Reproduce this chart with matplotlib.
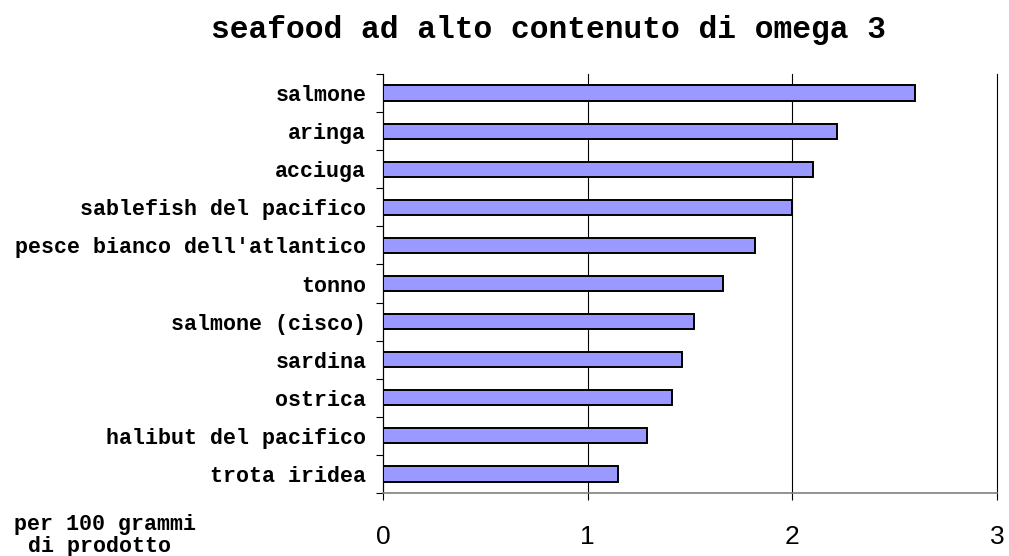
import matplotlib
matplotlib.use("Agg")
import matplotlib.pyplot as plt
import numpy as np

# omega 3 content, grams per 100 g of product
pesci = ["salmone", "aringa", "acciuga", "sablefish del pacifico",
         "pesce bianco dell'atlantico", "tonno", "salmone (cisco)",
         "sardina", "ostrica", "halibut del pacifico", "trota iridea"]
omega3 = [2.6, 2.22, 2.1, 2.0, 1.82, 1.66, 1.52, 1.46, 1.41, 1.29, 1.15]
xticks = [0, 1, 2, 3]

mono = ["Liberation Mono", "DejaVu Sans Mono"]
narrow = ["Liberation Sans Narrow", "Liberation Sans", "DejaVu Sans"]

fig = plt.figure(figsize=(10.09, 5.56), dpi=100)
ax = fig.add_axes([0.3796, 0.1133, 0.6085, 0.7535])

y = np.arange(len(pesci))
ax.barh(y, omega3, height=0.4, color="#9999FF", edgecolor="black",
        linewidth=1.4, zorder=3)

ax.set_xlim(0, 3)
ax.set_ylim(len(pesci) - 0.5, -0.5)
ax.set_xticks(xticks)
ax.set_xticklabels([str(t) for t in xticks], family=narrow, fontsize=19)
ax.grid(axis="x", color="black", linewidth=0.8, zorder=0)
for gl in ax.get_xgridlines():
    gl.set_clip_on(False)
ax.tick_params(axis="x", direction="out", length=5, width=0.8, pad=18)

ax.set_yticks(y)
ax.set_yticklabels(pesci, family=mono, fontweight="bold", fontsize=15.6)
ax.set_yticks(np.arange(len(pesci) + 1) - 0.5, minor=True)
ax.tick_params(axis="y", which="major", length=0, pad=12)
ax.tick_params(axis="y", which="minor", direction="out", length=5, width=0.8)

for s in ["top", "right"]:
    ax.spines[s].set_visible(False)
ax.spines["left"].set_linewidth(0.8)
ax.spines["bottom"].set_color("#808080")
ax.spines["bottom"].set_linewidth(1.2)

fig.text(0.544, 0.946, "seafood ad alto contenuto di omega 3", family=mono,
         fontweight="bold", fontsize=22.5, ha="center", va="center")
fig.text(0.104, 0.047, "per 100 grammi", family=mono, fontweight="bold",
         fontsize=15.6, ha="center", va="baseline")
fig.text(0.099, 0.007, "di prodotto", family=mono, fontweight="bold",
         fontsize=15.6, ha="center", va="baseline")

fig.savefig("out.png", dpi=100)
